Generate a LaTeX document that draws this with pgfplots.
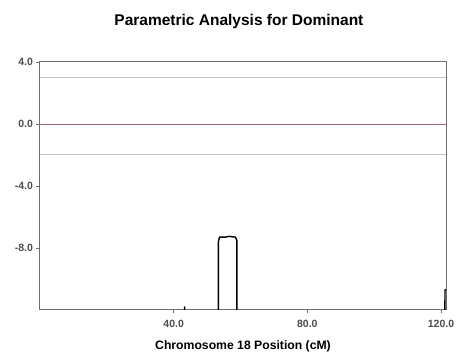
\documentclass[border=0pt]{standalone}
\usepackage{pgfplots}
\pgfplotsset{compat=1.18}
\usepackage{fontspec}
\setmainfont{Liberation Sans}
\definecolor{axgray}{RGB}{110,110,110}
\definecolor{reflgray}{RGB}{195,195,195}
\definecolor{zerored}{RGB}{165,105,115}
\begin{document}
\begin{tikzpicture}
\path[use as bounding box] (-40pt,-48pt) rectangle (418pt,310pt);
\begin{axis}[
  at={(0pt,0pt)}, anchor=south west,
  scale only axis, width=406pt, height=248pt,
  xmin=0, xmax=121.5, ymin=-12, ymax=4,
  xtick={40,80,120}, ytick={4,0,-4,-8},
  xticklabel style={yshift=-3pt, /pgf/number format/.cd,fixed,fixed zerofill,precision=1},
  yticklabel style={/pgf/number format/.cd,fixed,fixed zerofill,precision=1},
  /pgf/number format/assume math mode=true,
  ticklabel style={font=\fontsize{10.5}{12}\selectfont\bfseries, text=axgray!70!black},
  tick align=outside, tick pos=left,
  major tick length=3.5pt,
  tick style={axgray, line width=0.6pt},
  axis line style={axgray, line width=1pt},
  xlabel={\textbf{Chromosome 18 Position (cM)}},
  xlabel style={font=\fontsize{12.2}{14}\selectfont, yshift=-6pt},
  title={\textbf{Parametric Analysis for Dominant}},
  title style={font=\fontsize{15.5}{18}\selectfont, at={(0.49,1)}, yshift=24pt},
]
\addplot[reflgray, line width=1pt, forget plot] coordinates {(0,3) (121.5,3)};
\addplot[reflgray, line width=1pt, forget plot] coordinates {(0,-2) (121.5,-2)};
\addplot[zerored, line width=0.8pt, forget plot] coordinates {(0,0) (121.5,0)};
\addplot[black, line width=1.4pt, line join=round] coordinates {
(0,-20) (43.1,-20) (43.3,-11.8) (43.5,-20)
(53.3,-20) (53.4,-7.6) (53.7,-7.3) (55.5,-7.3) (56.5,-7.25) (58.5,-7.3) (58.9,-7.5) (59.0,-20)
(121.0,-20) (121.2,-10.7) (121.5,-10.7)
};
\end{axis}
\end{tikzpicture}
\end{document}
